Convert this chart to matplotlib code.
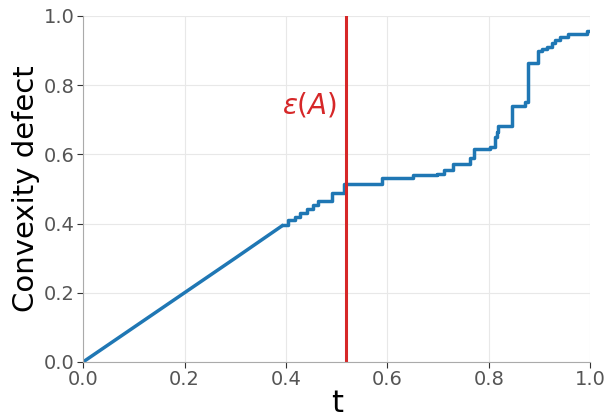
import matplotlib
matplotlib.use("Agg")
import matplotlib.pyplot as plt

# Linear part of the curve
t_lin = [0.0, 0.30, 0.395]
y_lin = [0.0, 0.30, 0.396]

# Step part of the curve (steps-post)
t_step = [0.395, 0.405, 0.417, 0.428, 0.441, 0.453, 0.464, 0.490, 0.515, 0.589,
          0.651, 0.697, 0.712, 0.729, 0.763, 0.770, 0.803, 0.813, 0.816, 0.819,
          0.845, 0.872, 0.877, 0.898, 0.904, 0.914, 0.924, 0.931, 0.941, 0.957,
          0.993, 1.0]
y_step = [0.396, 0.410, 0.420, 0.431, 0.441, 0.454, 0.465, 0.488, 0.515, 0.531,
          0.540, 0.543, 0.555, 0.572, 0.590, 0.615, 0.620, 0.650, 0.665, 0.682,
          0.740, 0.750, 0.863, 0.897, 0.904, 0.911, 0.921, 0.931, 0.940, 0.948,
          0.957, 0.957]

eps_A = 0.518
ticks = [0.0, 0.2, 0.4, 0.6, 0.8, 1.0]

fig = plt.figure(figsize=(6.11, 4.17), dpi=100)
ax = fig.add_axes([0.136, 0.132, 0.830, 0.830])

ax.plot(t_lin, y_lin, color='#1f77b4', lw=2.5, solid_capstyle='butt')
ax.plot(t_step, y_step, color='#1f77b4', lw=2.5, drawstyle='steps-post')
ax.axvline(eps_A, color='#d62728', lw=2.2)
ax.text(eps_A - 0.016, 0.742, r'$\varepsilon(A)$', color='#d62728', fontsize=20,
        ha='right', va='center')

ax.set_xlim(0, 1)
ax.set_ylim(0, 1)
ax.set_xticks(ticks)
ax.set_yticks(ticks)
ax.grid(True, color='#e8e8e8', lw=0.8)
ax.set_axisbelow(True)
for s in ['top', 'right']:
    ax.spines[s].set_visible(False)
for s in ['left', 'bottom']:
    ax.spines[s].set_color('#aaaaaa')
ax.tick_params(labelsize=14, labelcolor='#555555', length=4, color='#333333', pad=2)
ax.set_xlabel('t', fontsize=22, labelpad=0)
ax.set_ylabel('Convexity defect', fontsize=21, labelpad=3)

fig.savefig('out.png', dpi=100)
